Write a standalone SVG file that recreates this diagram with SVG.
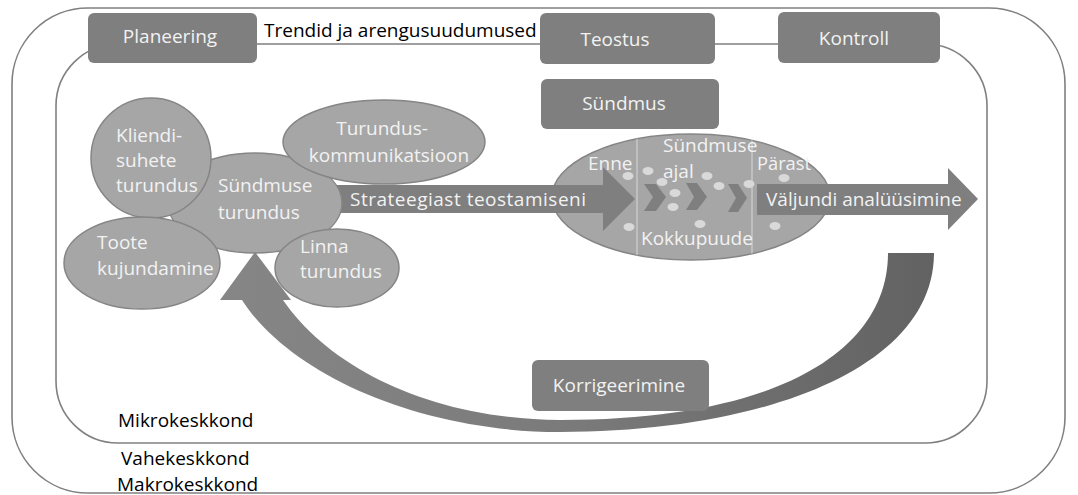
<svg xmlns="http://www.w3.org/2000/svg" width="1078" height="495" viewBox="0 0 1078 495">
<defs>
<style>
.frame{fill:none;stroke:#808080;stroke-width:1.6}
.box{fill:#7f7f7f}
.ell{fill:#a6a6a6;stroke:#858585;stroke-width:1.5}
.wt{font-family:"Open Sans","Liberation Sans",sans-serif;font-size:19px;fill:#f2f2f2}
.bt{font-family:"Open Sans","Liberation Sans",sans-serif;font-size:19px;fill:#000}
.mid{text-anchor:middle}
.dot{fill:#d9d9d9}
.chev{fill:#7f7f7f}
.sep{stroke:#d0d0d0;stroke-width:1.2}
.barrow{fill:#7f7f7f}
</style>
<linearGradient id="curveGrad" x1="0" y1="0" x2="1" y2="0">
<stop offset="0" stop-color="#868686"/>
<stop offset="0.5" stop-color="#7a7a7a"/>
<stop offset="1" stop-color="#626262"/>
</linearGradient>
<clipPath id="evClip"><ellipse cx="691" cy="197" rx="139" ry="63"/></clipPath>
</defs>

<g id="frames">
<rect id="makrokeskkond" class="frame" x="12" y="8" width="1053" height="485" rx="76" ry="76"/>
<rect id="mikrokeskkond" class="frame" x="56" y="44" width="931" height="399" rx="62" ry="62"/>
</g>

<g id="connectors">
<path id="korrigeerimine-arrow" fill="url(#curveGrad)" d="M 934 253 C 934 370 760 432 560 432 C 420 432 290 375 242 300 L 220 300 L 255 252 L 291 300 L 283 300 C 330 368 430 419 560 420 C 780 420 888 350 888 253 Z"/>
</g>

<g id="korrigeerimine">
<rect class="box" x="532" y="360" width="177" height="51" rx="6"/>
<text class="wt mid" x="619" y="392">Korrigeerimine</text>
</g>

<g id="planeering">
<rect class="box" x="88" y="13" width="169" height="50" rx="6"/>
<text class="wt mid" x="170" y="43">Planeering</text>
</g>

<g id="trendid">
<text class="bt" x="264" y="37">Trendid ja arengusuudumused</text>
</g>

<g id="teostus">
<rect class="box" x="540" y="13" width="175" height="51" rx="6"/>
<text class="wt mid" x="615" y="46">Teostus</text>
</g>

<g id="kontroll">
<rect class="box" x="778" y="12" width="162" height="51" rx="6"/>
<text class="wt mid" x="854" y="45">Kontroll</text>
</g>

<g id="syndmus">
<rect class="box" x="541" y="79" width="178" height="50" rx="6"/>
<text class="wt mid" x="624" y="110">Sündmus</text>
</g>

<g id="syndmuse-protsess">
<ellipse class="ell" cx="691" cy="197" rx="139" ry="63"/>
<g clip-path="url(#evClip)">
<line class="sep" x1="637" y1="130" x2="637" y2="265"/>
<line class="sep" x1="752" y1="130" x2="752" y2="265"/>
</g>
<polygon class="chev" points="644,184 656,184 666,197 656,211 644,211 653,197"/>
<polygon class="chev" points="686,183 697,183 707,197 697,210 686,210 694,197"/>
<polygon class="chev" points="728,184 738,184 747,198 738,212 728,212 736,198"/>
<ellipse class="dot" cx="628" cy="176" rx="5.5" ry="4"/>
<ellipse class="dot" cx="648" cy="171" rx="5.5" ry="4"/>
<ellipse class="dot" cx="662" cy="182" rx="5.5" ry="4"/>
<ellipse class="dot" cx="675" cy="193" rx="5.5" ry="4"/>
<ellipse class="dot" cx="673" cy="207" rx="5.5" ry="4"/>
<ellipse class="dot" cx="707" cy="176" rx="5.5" ry="4"/>
<ellipse class="dot" cx="719" cy="186" rx="5.5" ry="4"/>
<ellipse class="dot" cx="749" cy="184" rx="5.5" ry="4"/>
<ellipse class="dot" cx="784" cy="178" rx="5.5" ry="4"/>
<ellipse class="dot" cx="629" cy="227" rx="5.5" ry="4"/>
<ellipse class="dot" cx="700" cy="224" rx="5.5" ry="4"/>
<ellipse class="dot" cx="775" cy="226" rx="5.5" ry="4"/>
<text class="wt" x="588" y="170">Enne</text>
<text class="wt" x="663" y="152">Sündmuse</text>
<text class="wt" x="663" y="178">ajal</text>
<text class="wt" x="757" y="170" textLength="54" lengthAdjust="spacingAndGlyphs">Pärast</text>
<text class="wt" x="641" y="245">Kokkupuude</text>
</g>

<g id="strateegiast">
<polygon class="barrow" points="330,185 603,185 603,167 635,199 603,231 603,213 330,213"/>
<text class="wt" x="350" y="206" textLength="236">Strateegiast teostamiseni</text>
</g>

<g id="valjundi">
<polygon class="barrow" points="757,184 948,184 948,168 978,199 948,230 948,215 757,215"/>
<text class="wt" x="766" y="206">Väljundi analüüsimine</text>
</g>

<g id="syndmuse-turundus">
<ellipse class="ell" cx="255" cy="203" rx="87" ry="50"/>
<text class="wt" x="218" y="192">Sündmuse</text>
<text class="wt" x="218" y="219">turundus</text>
</g>

<g id="kliendisuhete-turundus">
<ellipse class="ell" cx="151" cy="158" rx="60" ry="60"/>
<text class="wt" x="116" y="142">Kliendi-</text>
<text class="wt" x="116" y="167">suhete</text>
<text class="wt" x="116" y="192">turundus</text>
</g>

<g id="turunduskommunikatsioon">
<ellipse class="ell" cx="384" cy="142" rx="101" ry="42"/>
<text class="wt mid" x="382" y="135">Turundus-</text>
<text class="wt mid" x="389" y="162">kommunikatsioon</text>
</g>

<g id="toote-kujundamine">
<ellipse class="ell" cx="142" cy="263" rx="78" ry="46"/>
<text class="wt" x="97" y="249">Toote</text>
<text class="wt" x="97" y="275">kujundamine</text>
</g>

<g id="linna-turundus">
<ellipse class="ell" cx="337" cy="268" rx="62" ry="39"/>
<text class="wt" x="300" y="253">Linna</text>
<text class="wt" x="300" y="278">turundus</text>
</g>

<g id="keskkonnad">
<text class="bt" x="118" y="427">Mikrokeskkond</text>
<text class="bt" x="121" y="465">Vahekeskkond</text>
<text class="bt" x="117" y="491">Makrokeskkond</text>
</g>
</svg>
